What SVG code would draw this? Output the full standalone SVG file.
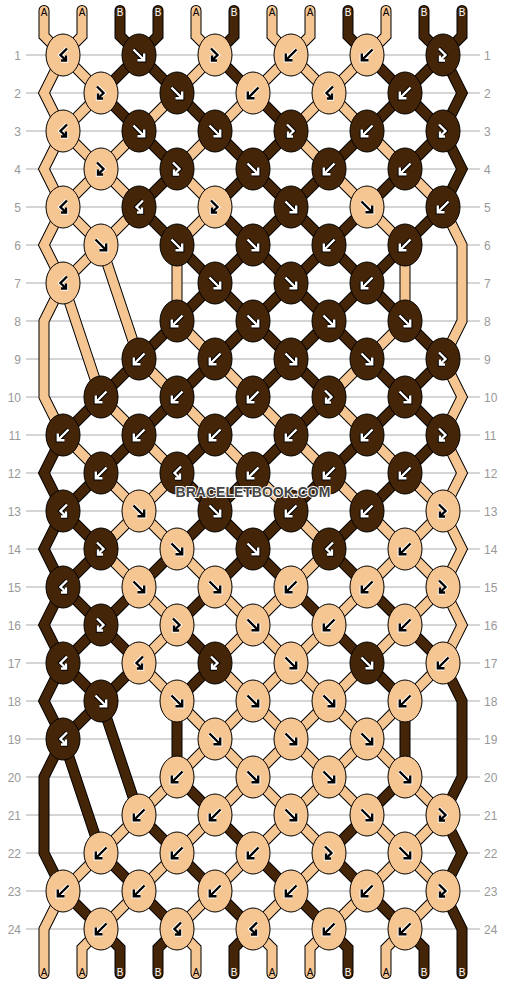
<svg xmlns="http://www.w3.org/2000/svg" xmlns:xlink="http://www.w3.org/1999/xlink" width="506" height="984" viewBox="0 0 506 984">
<style>
.grid{fill:none;stroke:#c8c8c8;stroke-width:1.5}
.num{font-family:"Liberation Sans",Arial,sans-serif;font-size:12px;fill:#999999}
.o{fill:none;stroke:#000;stroke-width:11;stroke-linejoin:miter;stroke-miterlimit:2;stroke-linecap:round}
.ca{fill:none;stroke:#F5C592;stroke-width:9;stroke-linejoin:miter;stroke-miterlimit:2;stroke-linecap:round}
.cb{fill:none;stroke:#452508;stroke-width:9;stroke-linejoin:miter;stroke-miterlimit:2;stroke-linecap:round}
.l ellipse{fill:#F5C592;stroke:#000;stroke-width:1}
.d ellipse{fill:#452508;stroke:#000;stroke-width:1}
.h{fill:none;stroke-width:4.4;stroke-linejoin:miter}
.m{fill:none;stroke-width:2.4;stroke-linejoin:miter}
.l .h{stroke:#fff}.l .m{stroke:#000}
.d .h{stroke:#000}.d .m{stroke:#fff}
.lab{font-family:"Liberation Sans",Arial,sans-serif;font-size:10px;text-anchor:middle}
.la{fill:#000}.lb{fill:#fff}
.wm{font-family:"Liberation Sans",Arial,sans-serif;font-weight:bold;font-size:14px;text-anchor:middle;fill:#444;stroke:#fff;stroke-width:2;paint-order:stroke}
</style>
<defs>
<path id="F" d="M-5.5,-5.5L4.5,4.5M5.2,-1.5V5.2H-1.5"/>
<path id="B" d="M5.5,-5.5L-4.5,4.5M-5.2,-1.5V5.2H1.5"/>
<path id="fb" d="M-4,-6.5L2.5,0L-2.5,5M-3,0.5V5.5H2"/>
<path id="bf" d="M4,-6.5L-2.5,0L2.5,5M3,0.5V5.5H-2"/>
<path id="s0" d="M44,10.5L44,36L63,55L44,93L63,131L44,169L63,207L44,245L63,283L44,321L44,397L63,435L101,473L139,511L177,549L215,587L253,625L291,663L329,701L367,739L405,777L443,815L405,853L367,891L329,929L310,948L310,973.5"/>
<path id="s1" d="M82,10.5L82,36L63,55L101,93L63,131L101,169L63,207L101,245L139,359L177,397L215,435L253,473L291,511L329,549L291,587L253,625L215,663L253,701L291,739L329,777L367,815L405,853L443,891L405,929L386,948L386,973.5"/>
<path id="s2" d="M120,10.5L120,36L139,55L177,93L215,131L253,169L291,207L329,245L367,283L405,321L443,359L405,397L367,435L329,473L291,511L253,549L215,587L177,625L215,663L177,701L177,777L215,815L253,853L291,891L329,929L348,948L348,973.5"/>
<path id="s3" d="M158,10.5L158,36L139,55L101,93L139,131L177,169L139,207L177,245L215,283L253,321L291,359L329,397L291,435L253,473L215,511L177,549L139,587L101,625L139,663L101,701L63,739L101,853L139,891L177,929L158,948L158,973.5"/>
<path id="s4" d="M196,10.5L196,36L215,55L177,93L139,131L101,169L139,207L101,245L63,283L101,397L139,435L177,473L139,511L101,549L139,587L177,625L139,663L177,701L215,739L253,777L291,815L329,853L291,891L253,929L272,948L272,973.5"/>
<path id="s5" d="M234,10.5L234,36L215,55L253,93L291,131L253,169L215,207L253,245L291,283L329,321L367,359L405,397L443,435L405,473L367,511L329,549L367,587L405,625L443,663L462,701L462,777L443,815L462,853L443,891L462,929L462,973.5"/>
<path id="s6" d="M272,10.5L272,36L291,55L329,93L291,131L329,169L367,207L405,245L405,321L367,359L329,397L367,435L405,473L443,511L405,549L367,587L329,625L291,663L253,701L215,739L177,777L139,815L101,853L63,891L44,929L44,973.5"/>
<path id="s7" d="M310,10.5L310,36L291,55L253,93L215,131L177,169L215,207L177,245L177,321L215,359L253,397L291,435L329,473L367,511L405,549L443,587L405,625L367,663L329,701L291,739L253,777L215,815L177,853L139,891L101,929L82,948L82,973.5"/>
<path id="s8" d="M348,10.5L348,36L367,55L405,93L443,131L405,169L367,207L329,245L291,283L253,321L215,359L177,397L139,435L101,473L63,511L101,549L63,587L101,625L63,663L101,701L139,815L177,853L215,891L253,929L234,948L234,973.5"/>
<path id="s9" d="M386,10.5L386,36L367,55L329,93L367,131L405,169L443,207L462,245L462,321L443,359L462,397L443,435L462,473L443,511L462,549L443,587L462,625L443,663L405,701L367,739L329,777L291,815L253,853L215,891L177,929L196,948L196,973.5"/>
<path id="s10" d="M424,10.5L424,36L443,55L405,93L367,131L329,169L291,207L253,245L215,283L177,321L139,359L101,397L63,435L44,473L63,511L44,549L63,587L44,625L63,663L44,701L63,739L44,777L44,853L63,891L101,929L120,948L120,973.5"/>
<path id="s11" d="M462,10.5L462,36L443,55L462,93L443,131L462,169L443,207L405,245L367,283L329,321L291,359L253,397L215,435L177,473L215,511L253,549L291,587L329,625L367,663L405,701L405,777L367,815L329,853L367,891L405,929L424,948L424,973.5"/>
</defs>
<rect width="506" height="984" fill="#fff"/>
<g id="grid">
<path class="grid" d="M26,55H480M26,93H480M26,131H480M26,169H480M26,207H480M26,245H480M26,283H480M26,321H480M26,359H480M26,397H480M26,435H480M26,473H480M26,511H480M26,549H480M26,587H480M26,625H480M26,663H480M26,701H480M26,739H480M26,777H480M26,815H480M26,853H480M26,891H480M26,929H480"/>
<g class="num" text-anchor="end">
<text x="21" y="59.5">1</text><text x="21" y="97.5">2</text><text x="21" y="135.5">3</text><text x="21" y="173.5">4</text><text x="21" y="211.5">5</text><text x="21" y="249.5">6</text><text x="21" y="287.5">7</text><text x="21" y="325.5">8</text><text x="21" y="363.5">9</text><text x="21" y="401.5">10</text><text x="21" y="439.5">11</text><text x="21" y="477.5">12</text><text x="21" y="515.5">13</text><text x="21" y="553.5">14</text><text x="21" y="591.5">15</text><text x="21" y="629.5">16</text><text x="21" y="667.5">17</text><text x="21" y="705.5">18</text><text x="21" y="743.5">19</text><text x="21" y="781.5">20</text><text x="21" y="819.5">21</text><text x="21" y="857.5">22</text><text x="21" y="895.5">23</text><text x="21" y="933.5">24</text>
</g>
<g class="num">
<text x="484" y="59.5">1</text><text x="484" y="97.5">2</text><text x="484" y="135.5">3</text><text x="484" y="173.5">4</text><text x="484" y="211.5">5</text><text x="484" y="249.5">6</text><text x="484" y="287.5">7</text><text x="484" y="325.5">8</text><text x="484" y="363.5">9</text><text x="484" y="401.5">10</text><text x="484" y="439.5">11</text><text x="484" y="477.5">12</text><text x="484" y="515.5">13</text><text x="484" y="553.5">14</text><text x="484" y="591.5">15</text><text x="484" y="629.5">16</text><text x="484" y="667.5">17</text><text x="484" y="705.5">18</text><text x="484" y="743.5">19</text><text x="484" y="781.5">20</text><text x="484" y="819.5">21</text><text x="484" y="857.5">22</text><text x="484" y="895.5">23</text><text x="484" y="933.5">24</text>
</g>
</g>
<g id="connectors">
<use href="#s0" class="o"/><use href="#s0" class="ca"/>
<use href="#s1" class="o"/><use href="#s1" class="ca"/>
<use href="#s2" class="o"/><use href="#s2" class="cb"/>
<use href="#s3" class="o"/><use href="#s3" class="cb"/>
<use href="#s4" class="o"/><use href="#s4" class="ca"/>
<use href="#s5" class="o"/><use href="#s5" class="cb"/>
<use href="#s6" class="o"/><use href="#s6" class="ca"/>
<use href="#s7" class="o"/><use href="#s7" class="ca"/>
<use href="#s8" class="o"/><use href="#s8" class="cb"/>
<use href="#s9" class="o"/><use href="#s9" class="ca"/>
<use href="#s10" class="o"/><use href="#s10" class="cb"/>
<use href="#s11" class="o"/><use href="#s11" class="cb"/>
</g>
<g id="labels" class="lab">
<text class="la" x="44" y="16">A</text><text class="la" x="82" y="16">A</text><text class="lb" x="120" y="16">B</text><text class="lb" x="158" y="16">B</text><text class="la" x="196" y="16">A</text><text class="lb" x="234" y="16">B</text><text class="la" x="272" y="16">A</text><text class="la" x="310" y="16">A</text><text class="lb" x="348" y="16">B</text><text class="la" x="386" y="16">A</text><text class="lb" x="424" y="16">B</text><text class="lb" x="462" y="16">B</text>
<text class="la" x="44" y="976">A</text><text class="la" x="82" y="976">A</text><text class="lb" x="120" y="976">B</text><text class="lb" x="158" y="976">B</text><text class="la" x="196" y="976">A</text><text class="lb" x="234" y="976">B</text><text class="la" x="272" y="976">A</text><text class="la" x="310" y="976">A</text><text class="lb" x="348" y="976">B</text><text class="la" x="386" y="976">A</text><text class="lb" x="424" y="976">B</text><text class="lb" x="462" y="976">B</text>
</g>
<g id="knots">
<g id="k1-1" class="l" transform="translate(63,55)"><ellipse rx="17" ry="21"/><use href="#bf" class="h"/><use href="#bf" class="m"/></g>
<g id="k1-2" class="d" transform="translate(139,55)"><ellipse rx="17" ry="21"/><use href="#F" class="h"/><use href="#F" class="m"/></g>
<g id="k1-3" class="l" transform="translate(215,55)"><ellipse rx="17" ry="21"/><use href="#fb" class="h"/><use href="#fb" class="m"/></g>
<g id="k1-4" class="l" transform="translate(291,55)"><ellipse rx="17" ry="21"/><use href="#B" class="h"/><use href="#B" class="m"/></g>
<g id="k1-5" class="l" transform="translate(367,55)"><ellipse rx="17" ry="21"/><use href="#B" class="h"/><use href="#B" class="m"/></g>
<g id="k1-6" class="d" transform="translate(443,55)"><ellipse rx="17" ry="21"/><use href="#fb" class="h"/><use href="#fb" class="m"/></g>
<g id="k2-1" class="l" transform="translate(101,93)"><ellipse rx="17" ry="21"/><use href="#fb" class="h"/><use href="#fb" class="m"/></g>
<g id="k2-2" class="d" transform="translate(177,93)"><ellipse rx="17" ry="21"/><use href="#F" class="h"/><use href="#F" class="m"/></g>
<g id="k2-3" class="l" transform="translate(253,93)"><ellipse rx="17" ry="21"/><use href="#B" class="h"/><use href="#B" class="m"/></g>
<g id="k2-4" class="l" transform="translate(329,93)"><ellipse rx="17" ry="21"/><use href="#bf" class="h"/><use href="#bf" class="m"/></g>
<g id="k2-5" class="d" transform="translate(405,93)"><ellipse rx="17" ry="21"/><use href="#B" class="h"/><use href="#B" class="m"/></g>
<g id="k3-1" class="l" transform="translate(63,131)"><ellipse rx="17" ry="21"/><use href="#bf" class="h"/><use href="#bf" class="m"/></g>
<g id="k3-2" class="d" transform="translate(139,131)"><ellipse rx="17" ry="21"/><use href="#F" class="h"/><use href="#F" class="m"/></g>
<g id="k3-3" class="d" transform="translate(215,131)"><ellipse rx="17" ry="21"/><use href="#F" class="h"/><use href="#F" class="m"/></g>
<g id="k3-4" class="d" transform="translate(291,131)"><ellipse rx="17" ry="21"/><use href="#fb" class="h"/><use href="#fb" class="m"/></g>
<g id="k3-5" class="d" transform="translate(367,131)"><ellipse rx="17" ry="21"/><use href="#B" class="h"/><use href="#B" class="m"/></g>
<g id="k3-6" class="d" transform="translate(443,131)"><ellipse rx="17" ry="21"/><use href="#fb" class="h"/><use href="#fb" class="m"/></g>
<g id="k4-1" class="l" transform="translate(101,169)"><ellipse rx="17" ry="21"/><use href="#fb" class="h"/><use href="#fb" class="m"/></g>
<g id="k4-2" class="d" transform="translate(177,169)"><ellipse rx="17" ry="21"/><use href="#fb" class="h"/><use href="#fb" class="m"/></g>
<g id="k4-3" class="d" transform="translate(253,169)"><ellipse rx="17" ry="21"/><use href="#F" class="h"/><use href="#F" class="m"/></g>
<g id="k4-4" class="d" transform="translate(329,169)"><ellipse rx="17" ry="21"/><use href="#B" class="h"/><use href="#B" class="m"/></g>
<g id="k4-5" class="d" transform="translate(405,169)"><ellipse rx="17" ry="21"/><use href="#B" class="h"/><use href="#B" class="m"/></g>
<g id="k5-1" class="l" transform="translate(63,207)"><ellipse rx="17" ry="21"/><use href="#bf" class="h"/><use href="#bf" class="m"/></g>
<g id="k5-2" class="d" transform="translate(139,207)"><ellipse rx="17" ry="21"/><use href="#bf" class="h"/><use href="#bf" class="m"/></g>
<g id="k5-3" class="l" transform="translate(215,207)"><ellipse rx="17" ry="21"/><use href="#fb" class="h"/><use href="#fb" class="m"/></g>
<g id="k5-4" class="d" transform="translate(291,207)"><ellipse rx="17" ry="21"/><use href="#F" class="h"/><use href="#F" class="m"/></g>
<g id="k5-5" class="l" transform="translate(367,207)"><ellipse rx="17" ry="21"/><use href="#F" class="h"/><use href="#F" class="m"/></g>
<g id="k5-6" class="d" transform="translate(443,207)"><ellipse rx="17" ry="21"/><use href="#B" class="h"/><use href="#B" class="m"/></g>
<g id="k6-1" class="l" transform="translate(101,245)"><ellipse rx="17" ry="21"/><use href="#F" class="h"/><use href="#F" class="m"/></g>
<g id="k6-2" class="d" transform="translate(177,245)"><ellipse rx="17" ry="21"/><use href="#F" class="h"/><use href="#F" class="m"/></g>
<g id="k6-3" class="d" transform="translate(253,245)"><ellipse rx="17" ry="21"/><use href="#F" class="h"/><use href="#F" class="m"/></g>
<g id="k6-4" class="d" transform="translate(329,245)"><ellipse rx="17" ry="21"/><use href="#B" class="h"/><use href="#B" class="m"/></g>
<g id="k6-5" class="d" transform="translate(405,245)"><ellipse rx="17" ry="21"/><use href="#B" class="h"/><use href="#B" class="m"/></g>
<g id="k7-1" class="l" transform="translate(63,283)"><ellipse rx="17" ry="21"/><use href="#bf" class="h"/><use href="#bf" class="m"/></g>
<g id="k7-3" class="d" transform="translate(215,283)"><ellipse rx="17" ry="21"/><use href="#F" class="h"/><use href="#F" class="m"/></g>
<g id="k7-4" class="d" transform="translate(291,283)"><ellipse rx="17" ry="21"/><use href="#F" class="h"/><use href="#F" class="m"/></g>
<g id="k7-5" class="d" transform="translate(367,283)"><ellipse rx="17" ry="21"/><use href="#B" class="h"/><use href="#B" class="m"/></g>
<g id="k8-2" class="d" transform="translate(177,321)"><ellipse rx="17" ry="21"/><use href="#B" class="h"/><use href="#B" class="m"/></g>
<g id="k8-3" class="d" transform="translate(253,321)"><ellipse rx="17" ry="21"/><use href="#F" class="h"/><use href="#F" class="m"/></g>
<g id="k8-4" class="d" transform="translate(329,321)"><ellipse rx="17" ry="21"/><use href="#F" class="h"/><use href="#F" class="m"/></g>
<g id="k8-5" class="d" transform="translate(405,321)"><ellipse rx="17" ry="21"/><use href="#F" class="h"/><use href="#F" class="m"/></g>
<g id="k9-2" class="d" transform="translate(139,359)"><ellipse rx="17" ry="21"/><use href="#B" class="h"/><use href="#B" class="m"/></g>
<g id="k9-3" class="d" transform="translate(215,359)"><ellipse rx="17" ry="21"/><use href="#B" class="h"/><use href="#B" class="m"/></g>
<g id="k9-4" class="d" transform="translate(291,359)"><ellipse rx="17" ry="21"/><use href="#F" class="h"/><use href="#F" class="m"/></g>
<g id="k9-5" class="d" transform="translate(367,359)"><ellipse rx="17" ry="21"/><use href="#F" class="h"/><use href="#F" class="m"/></g>
<g id="k9-6" class="d" transform="translate(443,359)"><ellipse rx="17" ry="21"/><use href="#fb" class="h"/><use href="#fb" class="m"/></g>
<g id="k10-1" class="d" transform="translate(101,397)"><ellipse rx="17" ry="21"/><use href="#B" class="h"/><use href="#B" class="m"/></g>
<g id="k10-2" class="d" transform="translate(177,397)"><ellipse rx="17" ry="21"/><use href="#B" class="h"/><use href="#B" class="m"/></g>
<g id="k10-3" class="d" transform="translate(253,397)"><ellipse rx="17" ry="21"/><use href="#B" class="h"/><use href="#B" class="m"/></g>
<g id="k10-4" class="d" transform="translate(329,397)"><ellipse rx="17" ry="21"/><use href="#fb" class="h"/><use href="#fb" class="m"/></g>
<g id="k10-5" class="d" transform="translate(405,397)"><ellipse rx="17" ry="21"/><use href="#F" class="h"/><use href="#F" class="m"/></g>
<g id="k11-1" class="d" transform="translate(63,435)"><ellipse rx="17" ry="21"/><use href="#B" class="h"/><use href="#B" class="m"/></g>
<g id="k11-2" class="d" transform="translate(139,435)"><ellipse rx="17" ry="21"/><use href="#B" class="h"/><use href="#B" class="m"/></g>
<g id="k11-3" class="d" transform="translate(215,435)"><ellipse rx="17" ry="21"/><use href="#B" class="h"/><use href="#B" class="m"/></g>
<g id="k11-4" class="d" transform="translate(291,435)"><ellipse rx="17" ry="21"/><use href="#B" class="h"/><use href="#B" class="m"/></g>
<g id="k11-5" class="d" transform="translate(367,435)"><ellipse rx="17" ry="21"/><use href="#B" class="h"/><use href="#B" class="m"/></g>
<g id="k11-6" class="d" transform="translate(443,435)"><ellipse rx="17" ry="21"/><use href="#fb" class="h"/><use href="#fb" class="m"/></g>
<g id="k12-1" class="d" transform="translate(101,473)"><ellipse rx="17" ry="21"/><use href="#B" class="h"/><use href="#B" class="m"/></g>
<g id="k12-2" class="d" transform="translate(177,473)"><ellipse rx="17" ry="21"/><use href="#bf" class="h"/><use href="#bf" class="m"/></g>
<g id="k12-3" class="d" transform="translate(253,473)"><ellipse rx="17" ry="21"/><use href="#B" class="h"/><use href="#B" class="m"/></g>
<g id="k12-4" class="d" transform="translate(329,473)"><ellipse rx="17" ry="21"/><use href="#B" class="h"/><use href="#B" class="m"/></g>
<g id="k12-5" class="d" transform="translate(405,473)"><ellipse rx="17" ry="21"/><use href="#B" class="h"/><use href="#B" class="m"/></g>
<g id="k13-1" class="d" transform="translate(63,511)"><ellipse rx="17" ry="21"/><use href="#bf" class="h"/><use href="#bf" class="m"/></g>
<g id="k13-2" class="l" transform="translate(139,511)"><ellipse rx="17" ry="21"/><use href="#F" class="h"/><use href="#F" class="m"/></g>
<g id="k13-3" class="d" transform="translate(215,511)"><ellipse rx="17" ry="21"/><use href="#F" class="h"/><use href="#F" class="m"/></g>
<g id="k13-4" class="d" transform="translate(291,511)"><ellipse rx="17" ry="21"/><use href="#B" class="h"/><use href="#B" class="m"/></g>
<g id="k13-5" class="d" transform="translate(367,511)"><ellipse rx="17" ry="21"/><use href="#B" class="h"/><use href="#B" class="m"/></g>
<g id="k13-6" class="l" transform="translate(443,511)"><ellipse rx="17" ry="21"/><use href="#fb" class="h"/><use href="#fb" class="m"/></g>
<g id="k14-1" class="d" transform="translate(101,549)"><ellipse rx="17" ry="21"/><use href="#fb" class="h"/><use href="#fb" class="m"/></g>
<g id="k14-2" class="l" transform="translate(177,549)"><ellipse rx="17" ry="21"/><use href="#F" class="h"/><use href="#F" class="m"/></g>
<g id="k14-3" class="d" transform="translate(253,549)"><ellipse rx="17" ry="21"/><use href="#F" class="h"/><use href="#F" class="m"/></g>
<g id="k14-4" class="d" transform="translate(329,549)"><ellipse rx="17" ry="21"/><use href="#bf" class="h"/><use href="#bf" class="m"/></g>
<g id="k14-5" class="l" transform="translate(405,549)"><ellipse rx="17" ry="21"/><use href="#B" class="h"/><use href="#B" class="m"/></g>
<g id="k15-1" class="d" transform="translate(63,587)"><ellipse rx="17" ry="21"/><use href="#bf" class="h"/><use href="#bf" class="m"/></g>
<g id="k15-2" class="l" transform="translate(139,587)"><ellipse rx="17" ry="21"/><use href="#F" class="h"/><use href="#F" class="m"/></g>
<g id="k15-3" class="l" transform="translate(215,587)"><ellipse rx="17" ry="21"/><use href="#F" class="h"/><use href="#F" class="m"/></g>
<g id="k15-4" class="l" transform="translate(291,587)"><ellipse rx="17" ry="21"/><use href="#B" class="h"/><use href="#B" class="m"/></g>
<g id="k15-5" class="l" transform="translate(367,587)"><ellipse rx="17" ry="21"/><use href="#B" class="h"/><use href="#B" class="m"/></g>
<g id="k15-6" class="l" transform="translate(443,587)"><ellipse rx="17" ry="21"/><use href="#fb" class="h"/><use href="#fb" class="m"/></g>
<g id="k16-1" class="d" transform="translate(101,625)"><ellipse rx="17" ry="21"/><use href="#fb" class="h"/><use href="#fb" class="m"/></g>
<g id="k16-2" class="l" transform="translate(177,625)"><ellipse rx="17" ry="21"/><use href="#fb" class="h"/><use href="#fb" class="m"/></g>
<g id="k16-3" class="l" transform="translate(253,625)"><ellipse rx="17" ry="21"/><use href="#F" class="h"/><use href="#F" class="m"/></g>
<g id="k16-4" class="l" transform="translate(329,625)"><ellipse rx="17" ry="21"/><use href="#B" class="h"/><use href="#B" class="m"/></g>
<g id="k16-5" class="l" transform="translate(405,625)"><ellipse rx="17" ry="21"/><use href="#B" class="h"/><use href="#B" class="m"/></g>
<g id="k17-1" class="d" transform="translate(63,663)"><ellipse rx="17" ry="21"/><use href="#bf" class="h"/><use href="#bf" class="m"/></g>
<g id="k17-2" class="l" transform="translate(139,663)"><ellipse rx="17" ry="21"/><use href="#bf" class="h"/><use href="#bf" class="m"/></g>
<g id="k17-3" class="d" transform="translate(215,663)"><ellipse rx="17" ry="21"/><use href="#fb" class="h"/><use href="#fb" class="m"/></g>
<g id="k17-4" class="l" transform="translate(291,663)"><ellipse rx="17" ry="21"/><use href="#F" class="h"/><use href="#F" class="m"/></g>
<g id="k17-5" class="d" transform="translate(367,663)"><ellipse rx="17" ry="21"/><use href="#F" class="h"/><use href="#F" class="m"/></g>
<g id="k17-6" class="l" transform="translate(443,663)"><ellipse rx="17" ry="21"/><use href="#B" class="h"/><use href="#B" class="m"/></g>
<g id="k18-1" class="d" transform="translate(101,701)"><ellipse rx="17" ry="21"/><use href="#F" class="h"/><use href="#F" class="m"/></g>
<g id="k18-2" class="l" transform="translate(177,701)"><ellipse rx="17" ry="21"/><use href="#F" class="h"/><use href="#F" class="m"/></g>
<g id="k18-3" class="l" transform="translate(253,701)"><ellipse rx="17" ry="21"/><use href="#F" class="h"/><use href="#F" class="m"/></g>
<g id="k18-4" class="l" transform="translate(329,701)"><ellipse rx="17" ry="21"/><use href="#F" class="h"/><use href="#F" class="m"/></g>
<g id="k18-5" class="l" transform="translate(405,701)"><ellipse rx="17" ry="21"/><use href="#B" class="h"/><use href="#B" class="m"/></g>
<g id="k19-1" class="d" transform="translate(63,739)"><ellipse rx="17" ry="21"/><use href="#bf" class="h"/><use href="#bf" class="m"/></g>
<g id="k19-3" class="l" transform="translate(215,739)"><ellipse rx="17" ry="21"/><use href="#F" class="h"/><use href="#F" class="m"/></g>
<g id="k19-4" class="l" transform="translate(291,739)"><ellipse rx="17" ry="21"/><use href="#F" class="h"/><use href="#F" class="m"/></g>
<g id="k19-5" class="l" transform="translate(367,739)"><ellipse rx="17" ry="21"/><use href="#F" class="h"/><use href="#F" class="m"/></g>
<g id="k20-2" class="l" transform="translate(177,777)"><ellipse rx="17" ry="21"/><use href="#B" class="h"/><use href="#B" class="m"/></g>
<g id="k20-3" class="l" transform="translate(253,777)"><ellipse rx="17" ry="21"/><use href="#F" class="h"/><use href="#F" class="m"/></g>
<g id="k20-4" class="l" transform="translate(329,777)"><ellipse rx="17" ry="21"/><use href="#F" class="h"/><use href="#F" class="m"/></g>
<g id="k20-5" class="l" transform="translate(405,777)"><ellipse rx="17" ry="21"/><use href="#F" class="h"/><use href="#F" class="m"/></g>
<g id="k21-2" class="l" transform="translate(139,815)"><ellipse rx="17" ry="21"/><use href="#B" class="h"/><use href="#B" class="m"/></g>
<g id="k21-3" class="l" transform="translate(215,815)"><ellipse rx="17" ry="21"/><use href="#B" class="h"/><use href="#B" class="m"/></g>
<g id="k21-4" class="l" transform="translate(291,815)"><ellipse rx="17" ry="21"/><use href="#F" class="h"/><use href="#F" class="m"/></g>
<g id="k21-5" class="l" transform="translate(367,815)"><ellipse rx="17" ry="21"/><use href="#F" class="h"/><use href="#F" class="m"/></g>
<g id="k21-6" class="l" transform="translate(443,815)"><ellipse rx="17" ry="21"/><use href="#fb" class="h"/><use href="#fb" class="m"/></g>
<g id="k22-1" class="l" transform="translate(101,853)"><ellipse rx="17" ry="21"/><use href="#B" class="h"/><use href="#B" class="m"/></g>
<g id="k22-2" class="l" transform="translate(177,853)"><ellipse rx="17" ry="21"/><use href="#B" class="h"/><use href="#B" class="m"/></g>
<g id="k22-3" class="l" transform="translate(253,853)"><ellipse rx="17" ry="21"/><use href="#B" class="h"/><use href="#B" class="m"/></g>
<g id="k22-4" class="l" transform="translate(329,853)"><ellipse rx="17" ry="21"/><use href="#fb" class="h"/><use href="#fb" class="m"/></g>
<g id="k22-5" class="l" transform="translate(405,853)"><ellipse rx="17" ry="21"/><use href="#F" class="h"/><use href="#F" class="m"/></g>
<g id="k23-1" class="l" transform="translate(63,891)"><ellipse rx="17" ry="21"/><use href="#B" class="h"/><use href="#B" class="m"/></g>
<g id="k23-2" class="l" transform="translate(139,891)"><ellipse rx="17" ry="21"/><use href="#B" class="h"/><use href="#B" class="m"/></g>
<g id="k23-3" class="l" transform="translate(215,891)"><ellipse rx="17" ry="21"/><use href="#B" class="h"/><use href="#B" class="m"/></g>
<g id="k23-4" class="l" transform="translate(291,891)"><ellipse rx="17" ry="21"/><use href="#B" class="h"/><use href="#B" class="m"/></g>
<g id="k23-5" class="l" transform="translate(367,891)"><ellipse rx="17" ry="21"/><use href="#B" class="h"/><use href="#B" class="m"/></g>
<g id="k23-6" class="l" transform="translate(443,891)"><ellipse rx="17" ry="21"/><use href="#fb" class="h"/><use href="#fb" class="m"/></g>
<g id="k24-1" class="l" transform="translate(101,929)"><ellipse rx="17" ry="21"/><use href="#B" class="h"/><use href="#B" class="m"/></g>
<g id="k24-2" class="l" transform="translate(177,929)"><ellipse rx="17" ry="21"/><use href="#bf" class="h"/><use href="#bf" class="m"/></g>
<g id="k24-3" class="l" transform="translate(253,929)"><ellipse rx="17" ry="21"/><use href="#bf" class="h"/><use href="#bf" class="m"/></g>
<g id="k24-4" class="l" transform="translate(329,929)"><ellipse rx="17" ry="21"/><use href="#B" class="h"/><use href="#B" class="m"/></g>
<g id="k24-5" class="l" transform="translate(405,929)"><ellipse rx="17" ry="21"/><use href="#B" class="h"/><use href="#B" class="m"/></g>
</g>
<text class="wm" x="253" y="497">BRACELETBOOK.COM</text>
</svg>
